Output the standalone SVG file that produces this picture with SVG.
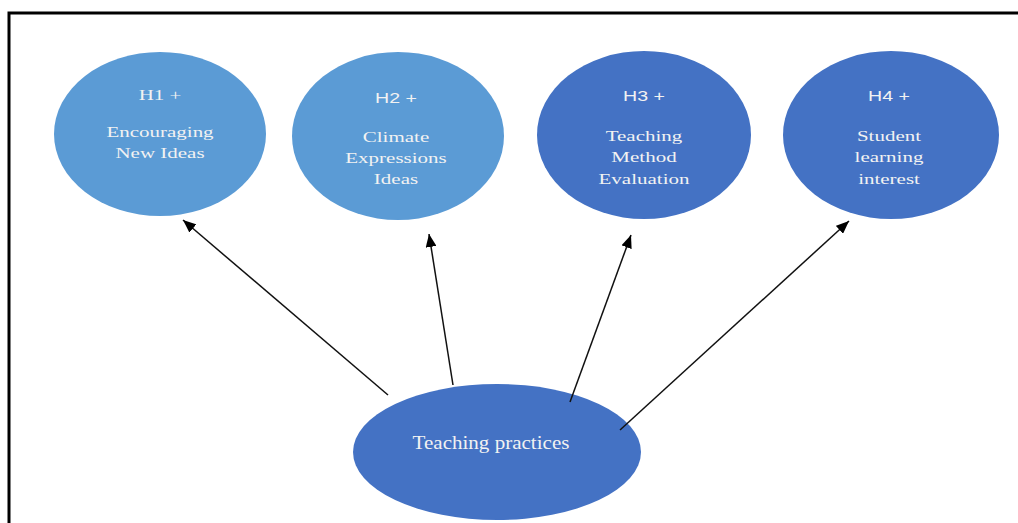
<svg xmlns="http://www.w3.org/2000/svg" width="1018" height="523" viewBox="0 0 1018 523">
<style>
.light{fill:#5B9BD5}
.dark{fill:#4472C4}
.t{fill:#F2F2F2;font-family:"Liberation Serif","Times New Roman",serif;text-anchor:middle}
.s{fill:#F2F2F2;font-family:"Liberation Sans",Arial,sans-serif;text-anchor:middle}
.conn line{stroke:#111;stroke-width:1.5;fill:none}
</style>
<defs>
<marker id="ah" viewBox="0 0 10 10" refX="10" refY="5" markerWidth="8" markerHeight="8" markerUnits="userSpaceOnUse" orient="auto">
<path d="M0,0 L10,5 L0,10 z" fill="#000"/>
</marker>
<marker id="ahb" viewBox="0 0 12 10" refX="12" refY="5" markerWidth="13" markerHeight="11" markerUnits="userSpaceOnUse" orient="auto">
<path d="M0,0 L12,5 L0,10 z" fill="#000"/>
</marker>
</defs>
<rect width="1018" height="523" fill="#fff"/>
<path d="M9,523 V13 H1018" fill="none" stroke="#000" stroke-width="3"/>

<g id="h1">
<ellipse class="light" cx="160" cy="134" rx="106" ry="82"/>
<g transform="translate(160 0) scale(1.4 1)">
<text class="t" x="0" y="100" font-size="15">H1 +</text>
<text class="t" x="0" y="137" font-size="15">Encouraging</text>
<text class="t" x="0" y="158" font-size="15">New Ideas</text>
</g>
</g>

<g id="h2">
<ellipse class="light" cx="398" cy="136" rx="106" ry="84"/>
<g transform="translate(396 0) scale(1.4 1)">
<text class="s" x="0" y="103" font-size="14">H2 +</text>
<text class="t" x="0" y="142" font-size="15">Climate</text>
<text class="t" x="0" y="163" font-size="15">Expressions</text>
<text class="t" x="0" y="184" font-size="15">Ideas</text>
</g>
</g>

<g id="h3">
<ellipse class="dark" cx="644" cy="135" rx="107" ry="84"/>
<g transform="translate(644 0) scale(1.4 1)">
<text class="s" x="0" y="101" font-size="14">H3 +</text>
<text class="t" x="0" y="141" font-size="15">Teaching</text>
<text class="t" x="0" y="162" font-size="15">Method</text>
<text class="t" x="0" y="184" font-size="15">Evaluation</text>
</g>
</g>

<g id="h4">
<ellipse class="dark" cx="891" cy="135" rx="108" ry="84"/>
<g transform="translate(889 0) scale(1.4 1)">
<text class="s" x="0" y="101" font-size="14">H4 +</text>
<text class="t" x="0" y="141" font-size="15">Student</text>
<text class="t" x="0" y="162" font-size="15">learning</text>
<text class="t" x="0" y="184" font-size="15">interest</text>
</g>
</g>

<g id="tp">
<ellipse class="dark" cx="497" cy="452" rx="144" ry="68"/>
<g transform="translate(491 0) scale(1.17 1)">
<text class="t" x="0" y="449" font-size="18">Teaching practices</text>
</g>
</g>

<g id="connectors" class="conn">
<line x1="388" y1="395" x2="183" y2="220" marker-end="url(#ahb)"/>
<line x1="453" y1="385" x2="429" y2="234" marker-end="url(#ahb)"/>
<line x1="570" y1="402" x2="631" y2="235" marker-end="url(#ahb)"/>
<line x1="620" y1="430" x2="849" y2="221" marker-end="url(#ahb)"/>
</g>
</svg>
